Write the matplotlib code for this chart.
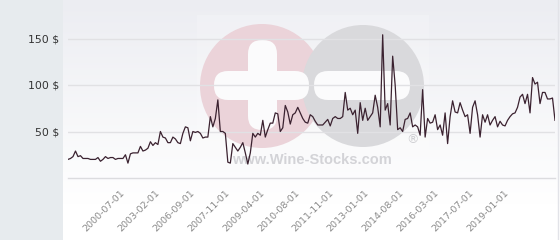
import numpy as np
import matplotlib
matplotlib.use("Agg")
import matplotlib.pyplot as plt
from matplotlib.patches import Circle, FancyBboxPatch, Rectangle

# ---- data ----
prices = [
    20, 21, 23, 29, 23, 24, 21, 21, 21, 20,
    20, 20, 22, 18, 20, 23, 21, 22, 22, 20,
    21, 21, 21, 25, 16, 26, 27, 27, 27, 34,
    29, 30, 32, 39, 35, 38, 36, 50, 44, 43,
    38, 38, 44, 42, 38, 37,
    48, 55, 54, 40, 50, 49, 50, 48, 43, 44,
    44, 66, 55, 64, 84, 50, 50, 48, 17, 16,
    37, 33, 29, 33, 38, 27, 15, 27, 48, 44,
    48, 46, 62, 44, 52, 59, 59, 70, 69, 50,
    54, 78, 71, 58, 68, 70, 76, 70, 64, 60,
    59, 68, 66, 61, 57, 57, 57, 60, 63, 56,
    64, 66, 64, 64, 66, 92, 73, 75, 68, 73,
    48, 81, 62, 75, 62, 66, 70, 89, 76,
    55, 154, 73, 80, 57, 131, 100, 52, 54, 50,
    63, 64, 70, 55, 57, 55, 46, 95, 44, 64,
    59, 60, 68, 52, 57, 46, 70, 37, 66, 83,
    71, 70, 81, 73, 66, 68, 48, 76, 83, 68,
    44, 68, 60, 68, 57, 62, 66, 55, 61, 57,
    56, 62, 66, 69, 70, 76, 87, 90, 80, 90,
    70, 108, 101, 103, 80, 92, 92, 85, 85, 86,
    62,
]
tick_labels = ["2000-07-01", "2003-02-01", "2006-09-01", "2007-11-01",
               "2009-04-01", "2010-08-01", "2011-11-01", "2013-01-01",
               "2014-08-01", "2016-03-01", "2017-07-01", "2019-01-01"]
first_tick_index = 22
tick_step = 14
y_ticks = [50, 100, 150]
y_tick_labels = ["50 $", "100 $", "150 $"]

W, H = 560, 240
fig = plt.figure(figsize=(W / 100, H / 100), dpi=100)
fig.patch.set_facecolor("#e7ebee")

# ---- background gradient panel ----
bg = fig.add_axes([63 / W, 0, (W - 63) / W, 1], zorder=0)
top = np.array([0xec, 0xed, 0xf2]) / 255
bot = np.array([1.0, 1.0, 1.0])
t = np.clip(np.linspace(0, 1, 240) / 0.85, 0, 1)[:, None]
grad = top[None, :] * (1 - t) + bot[None, :] * t
bg.imshow(np.repeat(grad[:, None, :], 2, axis=1), aspect="auto",
          extent=[0, 1, 1, 0])
bg.set_xlim(0, 1); bg.set_ylim(1, 0)
bg.axis("off")

# ---- watermark (pixel coordinates) ----
wm = fig.add_axes([0, 0, 1, 1], zorder=1)
wm.set_xlim(0, W); wm.set_ylim(H, 0)
wm.axis("off")
wm.patch.set_alpha(0)
wm.add_patch(Rectangle((197, 15), 232, 160, color="white", alpha=0.18, lw=0))
wm.add_patch(Circle((262, 86), 62, color="#ebd3d9", lw=0))
wm.add_patch(Circle((363, 86), 61, color="#d9d9dc", lw=0))
white = "#fbfbfc"
wm.add_patch(FancyBboxPatch((248, 40), 29, 90, boxstyle="round,pad=0,rounding_size=14",
                            color=white, lw=0))
wm.add_patch(FancyBboxPatch((214, 71), 95, 29, boxstyle="round,pad=0,rounding_size=14",
                            color=white, lw=0))
wm.add_patch(FancyBboxPatch((314, 71), 96, 29, boxstyle="round,pad=0,rounding_size=14",
                            color=white, lw=0))
wm.text(312, 160, "www.Wine-Stocks.com", ha="center", va="center",
        family="Liberation Sans", weight="bold", fontsize=10.5, color="#d3d3d7")
wm.text(412, 140, "®", ha="center", va="center", family="DejaVu Sans",
        fontsize=9, color="#cfcfd3")
wm.plot([557.5, 557.5], [0, H], color="#e2e3e8", lw=1)

# ---- main chart ----
ax = fig.add_axes([68 / W, (H - 178) / H, 487 / W, 167.4 / H], zorder=2)
ax.patch.set_alpha(0)
x = np.arange(len(prices))
ax.plot(x, prices, color="#3b2230", lw=0.9, zorder=3)
ax.set_xlim(0, len(prices) - 1)
ax.set_ylim(0, 180)

ticks = [first_tick_index + i * tick_step for i in range(len(tick_labels))]
ax.set_xticks(ticks)
ax.set_xticklabels(tick_labels, rotation=45, ha="right", va="center",
                   rotation_mode="anchor", fontsize=6.8, color="#8a8a8a")
ax.set_yticks(y_ticks)
ax.set_yticklabels(y_tick_labels, fontsize=7.8, color="#333333")
ax.tick_params(axis="x", length=0, pad=9.5)
ax.tick_params(axis="y", length=0, pad=6.5)
ax.grid(axis="y", color="#e1e1e4", lw=1)
ax.set_axisbelow(True)
for s in ["top", "right", "left"]:
    ax.spines[s].set_visible(False)
ax.spines["bottom"].set_color("#dcdcdf")
ax.spines["bottom"].set_linewidth(1)

fig.savefig("out.png", dpi=100)
